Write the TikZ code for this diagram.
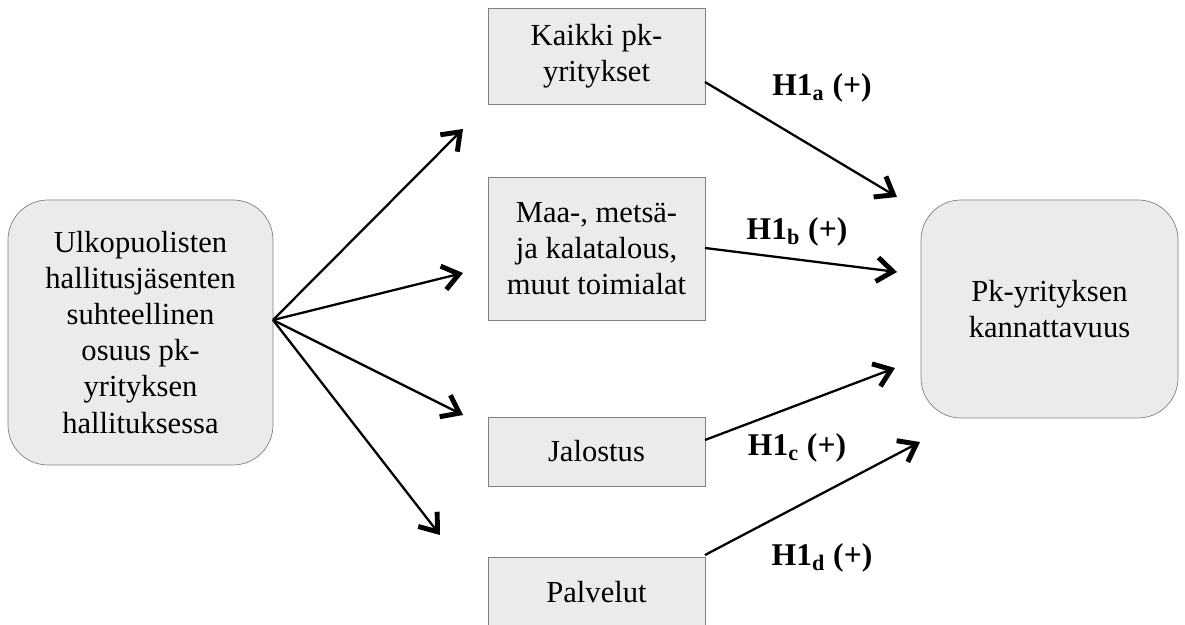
\documentclass[tikz,border=0pt]{standalone}
\usepackage{fontspec}
\setmainfont{Liberation Serif}
\usetikzlibrary{arrows.meta}
\definecolor{boxfill}{HTML}{EBEBEB}
\definecolor{boxline}{HTML}{808080}
\begin{document}
\begin{tikzpicture}[
    block/.style={draw=boxline, fill=boxfill, align=center, inner sep=0pt,
        font=\fontsize{17.4}{20.5}\selectfont},
    roundblock/.style={block, rounded corners=0.8cm},
    link/.style={line width=1.3pt, -{Straight Barb[length=3.2mm,width=4.8mm,line width=2.8pt]}},
    hyp/.style={font=\fontsize{18}{21}\selectfont\bfseries}
]
\useasboundingbox (0,0) rectangle (23.7,12.5);

\node[roundblock, minimum width=5.3cm, minimum height=5.3cm] (ulko) at (2.81,5.85)
    {Ulkopuolisten\\hallitusjäsenten\\suhteellinen\\osuus pk-\\yrityksen\\hallituksessa};
\node[block, minimum width=4.34cm, minimum height=1.92cm] (kaikki) at (11.93,11.38)
    {Kaikki pk-\\yritykset};
\node[block, minimum width=4.34cm, minimum height=2.86cm] (maa) at (11.93,7.53)
    {Maa-, metsä-\\ja kalatalous,\\muut toimialat};
\node[block, minimum width=4.34cm, minimum height=1.38cm] (jalostus) at (11.93,3.47)
    {Jalostus};
\node[block, minimum width=4.34cm, minimum height=1.4cm] (palvelut) at (11.93,0.66)
    {Palvelut};
\node[roundblock, minimum width=5.14cm, minimum height=4.36cm] (pk) at (20.99,6.32)
    {Pk-yrityksen\\kannattavuus};

% start and end points of the arrows
\coordinate (o) at (5.46,6.10);
\coordinate (ta) at (9.26,9.92);
\coordinate (tb) at (9.26,7.04);
\coordinate (tc) at (9.26,4.20);
\coordinate (td) at (8.80,1.80);
\coordinate (sa) at (14.10,10.86);
\coordinate (sb) at (14.10,7.54);
\coordinate (sc) at (14.10,3.70);
\coordinate (sd) at (14.10,1.40);
\coordinate (ea) at (17.94,8.56);
\coordinate (eb) at (17.94,7.06);
\coordinate (ec) at (17.90,5.14);
\coordinate (ed) at (18.40,3.66);

\draw[link] (o) -- (ta);
\draw[link] (o) -- (tb);
\draw[link] (o) -- (tc);
\draw[link] (o) -- (td);

\draw[link] (sa) -- (ea);
\draw[link] (sb) -- (eb);
\draw[link] (sc) -- (ec);
\draw[link] (sd) -- (ed);

\node[hyp] (ha) at (16.44,10.74) {H1\textsubscript{a} (+)};
\node[hyp] (hb) at (15.94,7.86) {H1\textsubscript{b} (+)};
\node[hyp] (hc) at (15.94,3.54) {H1\textsubscript{c} (+)};
\node[hyp] (hd) at (16.44,1.34) {H1\textsubscript{d} (+)};

\end{tikzpicture}
\end{document}
